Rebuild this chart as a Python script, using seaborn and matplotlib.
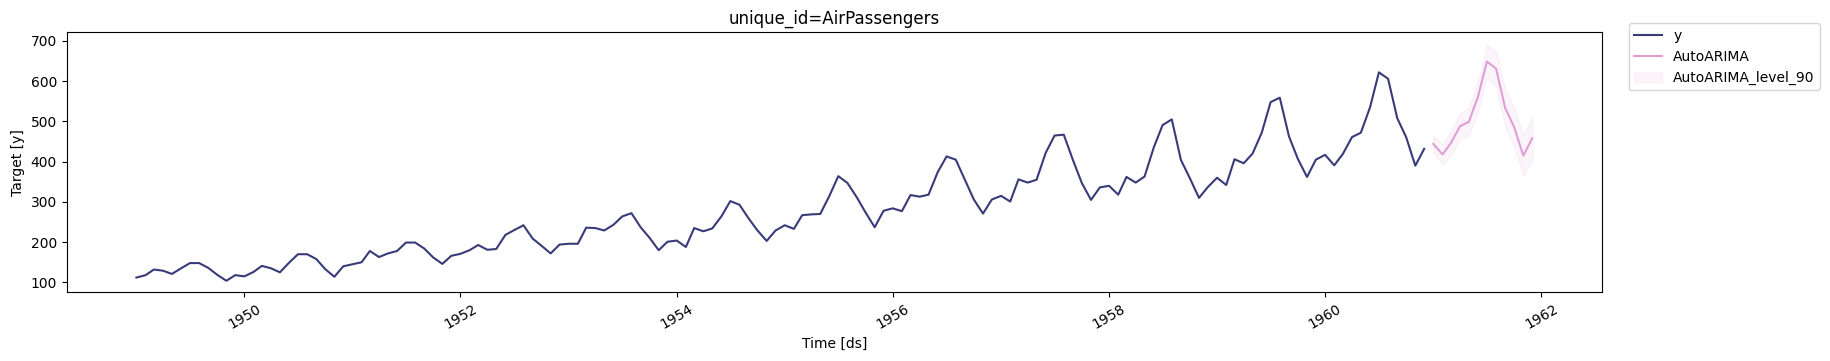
import numpy as np
import pandas as pd
import matplotlib
matplotlib.use("Agg")
import matplotlib.pyplot as plt
import seaborn as sns

# Historical monthly values 1949-01 .. 1960-12
y_values = [
    112, 118, 132, 129, 121, 135, 148, 148, 136, 119, 104, 118,
    115, 126, 141, 135, 125, 149, 170, 170, 158, 133, 114, 140,
    145, 150, 178, 163, 172, 178, 199, 199, 184, 162, 146, 166,
    171, 180, 193, 181, 183, 218, 230, 242, 209, 191, 172, 194,
    196, 196, 236, 235, 229, 243, 264, 272, 237, 211, 180, 201,
    204, 188, 235, 227, 234, 264, 302, 293, 259, 229, 203, 229,
    242, 233, 267, 269, 270, 315, 364, 347, 312, 274, 237, 278,
    284, 277, 317, 313, 318, 374, 413, 405, 355, 306, 271, 306,
    315, 301, 356, 348, 355, 422, 465, 467, 404, 347, 305, 336,
    340, 318, 362, 348, 363, 435, 491, 505, 404, 359, 310, 337,
    360, 342, 406, 396, 420, 472, 548, 559, 463, 407, 362, 405,
    417, 391, 419, 461, 472, 535, 622, 606, 508, 461, 390, 432,
]
# Forecast 1961-01 .. 1961-12
fc_values = [444, 418, 446, 488, 499, 562, 649, 631, 533, 486, 415, 458]
fc_lo90 = [424, 393, 417, 456, 464, 524, 608, 588, 487, 438, 365, 406]
fc_hi90 = [464, 443, 475, 520, 534, 600, 690, 674, 579, 534, 465, 510]

hist_dates = pd.date_range("1949-01-01", periods=len(y_values), freq="MS")
fc_dates = pd.date_range("1961-01-01", periods=len(fc_values), freq="MS")

hist = pd.DataFrame({"ds": hist_dates, "y": y_values})
fc = pd.DataFrame({"ds": fc_dates, "AutoARIMA": fc_values,
                   "lo": fc_lo90, "hi": fc_hi90})

c_y = "#393b79"
c_fc = "#de9ed6"

fig = plt.figure(figsize=(18.3, 3.61), dpi=100)
ax = fig.add_axes([0.0364, 0.191, 0.839, 0.719])

sns.lineplot(data=hist, x="ds", y="y", ax=ax, color=c_y, label="y", linewidth=1.5)
sns.lineplot(data=fc, x="ds", y="AutoARIMA", ax=ax, color=c_fc, label="AutoARIMA", linewidth=1.5)
ax.fill_between(fc["ds"], fc["lo"], fc["hi"], color=c_fc, alpha=0.1,
                label="AutoARIMA_level_90")

ax.set_title("unique_id=AirPassengers")
ax.set_xlabel("Time [ds]")
ax.set_ylabel("Target [y]")
ax.set_ylim(76, 721)
for lab in ax.get_xticklabels():
    lab.set_rotation(30)

handles, labels = ax.get_legend_handles_labels()
ax.get_legend().remove()
fig.legend(handles, labels, loc="upper left", bbox_to_anchor=(0.890, 0.936),
           borderaxespad=0)

fig.savefig("out.png", dpi=100)
